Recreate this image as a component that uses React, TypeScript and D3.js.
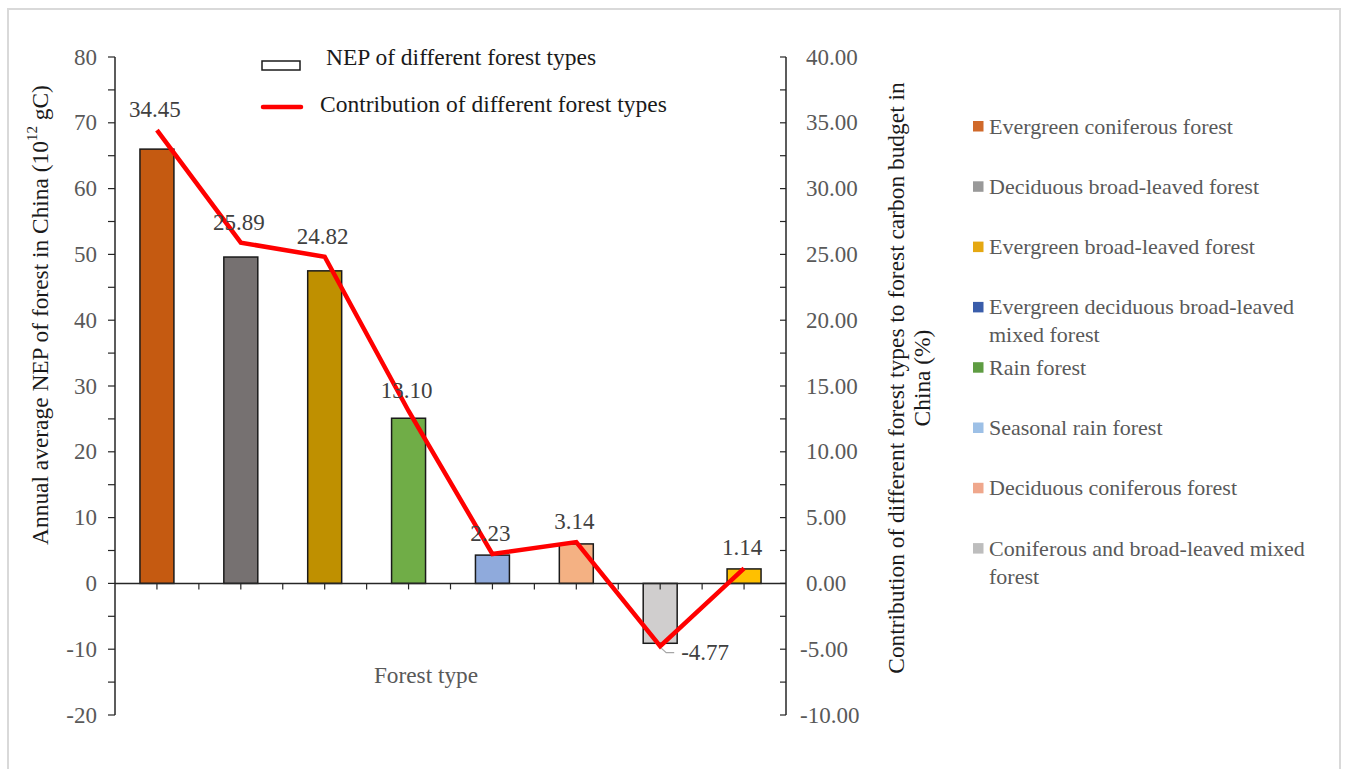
import React from "react";
import * as d3 from "d3";

const categories = [
  "Evergreen coniferous forest",
  "Deciduous broad-leaved forest",
  "Evergreen broad-leaved forest",
  "Rain forest",
  "Seasonal rain forest",
  "Deciduous coniferous forest",
  "Coniferous and broad-leaved mixed forest",
  "Other forest",
];
const nepValues = [66.0, 49.6, 47.5, 25.1, 4.3, 6.0, -9.1, 2.2];
const contributionValues = [34.45, 25.89, 24.82, 13.1, 2.23, 3.14, -4.77, 1.14];
const barColors = ["#C55A11", "#767171", "#BF9000", "#70AD47", "#8FAADC", "#F4B183", "#D0CECE", "#FFC000"];

const legendLabels = [
  ["Evergreen coniferous forest"],
  ["Deciduous broad-leaved forest"],
  ["Evergreen broad-leaved forest"],
  ["Evergreen deciduous broad-leaved", "mixed forest"],
  ["Rain forest"],
  ["Seasonal rain forest"],
  ["Deciduous coniferous forest"],
  ["Coniferous and broad-leaved mixed", "forest"],
];
const legendColors = ["#D0692A", "#999999", "#E5A812", "#3A5DAA", "#5E9C42", "#9DC0E6", "#EFA78C", "#BDBDBD"];

const leftTicks = [-20, -10, 0, 10, 20, 30, 40, 50, 60, 70, 80];
const rightTicks = [-10, -5, 0, 5, 10, 15, 20, 25, 30, 35, 40];

const FONT = "Liberation Serif, Times New Roman, DejaVu Serif, serif";

export default function App() {
  const W = 1345, H = 769;
  const left = 115, right = 786, top = 57, bottom = 715;
  const x = d3.scaleBand<string>().domain(categories).range([left, right]).padding(0);
  const yL = d3.scaleLinear().domain([-20, 80]).range([bottom, top]);
  const yR = d3.scaleLinear().domain([-10, 40]).range([bottom, top]);
  const bw = x.bandwidth() * 0.405;
  const cx = (c: string) => (x(c) as number) + x.bandwidth() / 2;

  const line = d3
    .line<number>()
    .x((_, i) => cx(categories[i]))
    .y((d) => yR(d));

  const leftMinor = d3.range(-20, 80.1, 5);
  const rightMinor = d3.range(-10, 40.1, 2.5);
  const xTicks = d3.range(1, categories.length * 2).map((k) => left + (x.step() / 2) * k);
  const fmt = (v: number) => v.toFixed(2);
  const textGray = "#595959";

  return (
    <svg
      width={W}
      height={H}
      style={{ position: "absolute", left: 0, top: 0, background: "#fff", fontFamily: FONT }}
    >
      <rect x={8} y={9} width={1332} height={780} fill="#fff" stroke="#D9D9D9" strokeWidth={2} />

      {/* bars */}
      {categories.map((c, i) => {
        const v = nepValues[i];
        return (
          <rect
            key={c}
            x={cx(c) - bw / 2}
            y={yL(Math.max(0, v))}
            width={bw}
            height={Math.abs(yL(v) - yL(0))}
            fill={barColors[i]}
            stroke="#1a1a1a"
            strokeWidth={1.5}
          />
        );
      })}

      {/* zero line */}
      <line x1={left} x2={right} y1={yL(0)} y2={yL(0)} stroke="#262626" strokeWidth={1.5} />
      {xTicks.map((t) => (
        <line key={t} x1={t} x2={t} y1={yL(0)} y2={yL(0) + 6} stroke="#262626" strokeWidth={1.2} />
      ))}

      {/* left axis */}
      <line x1={left} x2={left} y1={top} y2={bottom} stroke="#262626" strokeWidth={1.5} />
      {leftMinor.map((t) => (
        <line key={t} x1={left - 7} x2={left} y1={yL(t)} y2={yL(t)} stroke="#262626" strokeWidth={1.2} />
      ))}
      {leftTicks.map((t) => (
        <text key={t} x={97} y={yL(t)} textAnchor="end" dominantBaseline="central" fontSize={23} fill={textGray}>
          {String(t)}
        </text>
      ))}

      {/* right axis */}
      <line x1={right} x2={right} y1={top} y2={bottom} stroke="#262626" strokeWidth={1.5} />
      {rightMinor.map((t) => (
        <line key={t} x1={right - 6} x2={right} y1={yR(t)} y2={yR(t)} stroke="#262626" strokeWidth={1.2} />
      ))}
      {rightTicks.map((t) => (
        <text key={t} x={t < 0 ? 800 : 806} y={yR(t)} textAnchor="start" dominantBaseline="central" fontSize={23} fill={textGray}>
          {fmt(t)}
        </text>
      ))}

      {/* contribution line */}
      <path d={line(contributionValues) || ""} fill="none" stroke="#FF0000" strokeWidth={4.5} strokeLinejoin="miter" />

      {/* data labels */}
      {categories.map((c, i) => {
        const v = contributionValues[i];
        const px = cx(c);
        const py = yR(v);
        if (v < 0) {
          return (
            <g key={c}>
              <polyline
                points={`${px + 1},${py + 2} ${px + 6},${py + 6.5} ${px + 14},${py + 6.5}`}
                fill="none"
                stroke="#A6A6A6"
                strokeWidth={1.2}
              />
              <text x={px + 21} y={py + 14} fontSize={23} fill="#404040">
                {fmt(v)}
              </text>
            </g>
          );
        }
        return (
          <text key={c} x={px - 2} y={py - 13} textAnchor="middle" fontSize={23} fill="#404040">
            {fmt(v)}
          </text>
        );
      })}

      {/* top legend */}
      <rect x={262} y={61} width={38} height={9} fill="#fff" stroke="#1a1a1a" strokeWidth={1.5} />
      <text x={326} y={65} fontSize={23.5} fill="#1a1a1a">
        NEP of different forest types
      </text>
      <line x1={263} x2={301} y1={107} y2={107} stroke="#FF0000" strokeWidth={4.5} strokeLinecap="round" />
      <text x={320} y={112} fontSize={23.5} fill="#1a1a1a">
        Contribution of different forest types
      </text>

      {/* right legend */}
      {legendLabels.map((lines, i) => {
        const y0 = 126 + i * 60.3;
        return (
          <g key={i}>
            <rect x={973} y={y0 - 5} width={10.5} height={10.5} fill={legendColors[i]} />
            {lines.map((ln, j) => (
              <text key={j} x={989} y={y0 + j * 28} dominantBaseline="central" fontSize={22} fill={textGray}>
                {ln}
              </text>
            ))}
          </g>
        );
      })}

      {/* axis titles */}
      <text
        transform={`translate(40,315) rotate(-90)`}
        textAnchor="middle"
        dominantBaseline="central"
        fontSize={23.4}
        fill="#1a1a1a"
      >
        Annual average NEP of forest in China (10
        <tspan fontSize={15} dy={-8}>12</tspan>
        <tspan dy={8}> gC)</tspan>
      </text>
      <text
        transform={`translate(896,378) rotate(-90)`}
        textAnchor="middle"
        dominantBaseline="central"
        fontSize={23.4}
        fill="#1a1a1a"
      >
        Contribution of different forest types to forest carbon budget in
      </text>
      <text
        transform={`translate(922,378) rotate(-90)`}
        textAnchor="middle"
        dominantBaseline="central"
        fontSize={23.4}
        fill="#1a1a1a"
      >
        China (%)
      </text>
      <text x={426} y={675} textAnchor="middle" dominantBaseline="central" fontSize={23.3} fill={textGray}>
        Forest type
      </text>
    </svg>
  );
}
